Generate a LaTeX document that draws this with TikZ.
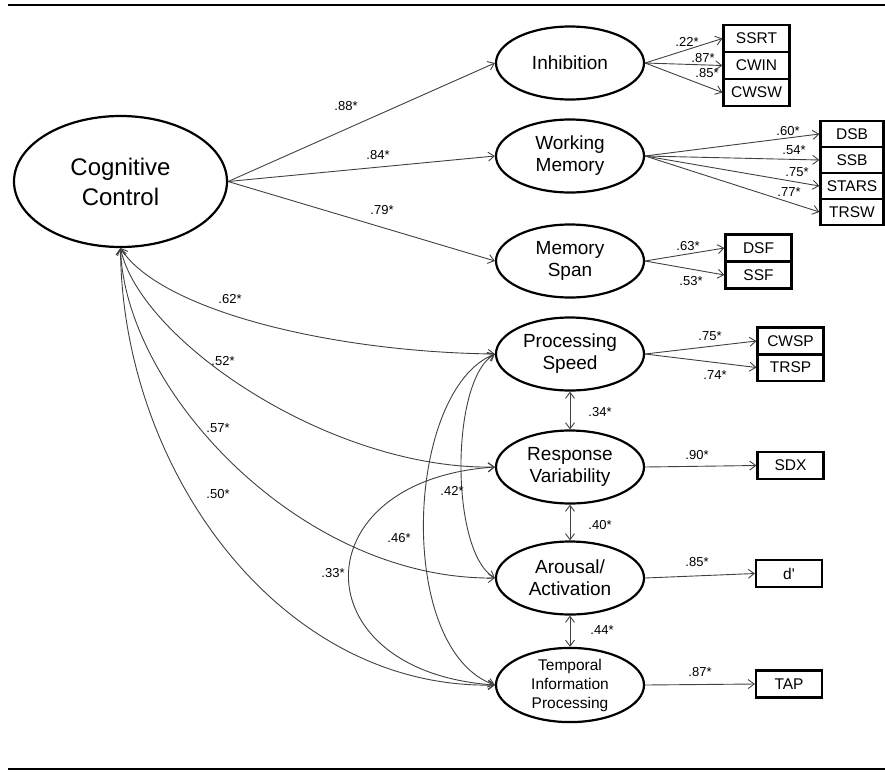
\documentclass[tikz,border=0pt]{standalone}
\usepackage{fontspec}
\setmainfont{Liberation Sans}
\usetikzlibrary{arrows.meta,positioning,shapes.geometric}

\begin{document}
\begin{tikzpicture}[
        x=1pt,
        y=1pt,
        latent/.style={ellipse, draw, line width=2.2pt, inner sep=0pt, minimum width=148pt, minimum height=73pt, align=center, font=\fontsize{19}{22}\selectfont},
        indic/.style={rectangle, draw, line width=2.2pt, inner sep=0pt, minimum width=66pt, minimum height=27pt, font=\fontsize{15.5}{18}\selectfont},
        load/.style={-{Straight Barb[length=6pt,width=9pt]}, line width=0.9pt, black!75},
        cov/.style={{Straight Barb[length=6pt,width=9pt]}-{Straight Barb[length=6pt,width=9pt]}, line width=0.9pt, black!75},
        coef/.style={font=\fontsize{13}{15}\selectfont, inner sep=0pt},
        hrule/.style={line width=2pt}
    ]
        \useasboundingbox (0,0) rectangle (885,-771);
        \draw[hrule] (8,-5) -- (885,-5);
        \draw[hrule] (8,-769) -- (885,-769);

        \node[latent, minimum width=213pt, minimum height=131pt, font=\fontsize{24}{30}\selectfont] (cc) at (120.5,-181.5) {Cognitive\\Control};

        \node[latent] (inh) at (570,-63) {Inhibition};
        \node[latent] (wm) at (570,-156) {Working\\Memory};
        \node[latent] (ms) at (570,-261) {Memory\\Span};
        \node[latent] (ps) at (570,-354) {Processing\\Speed};
        \node[latent] (rv) at (570,-467) {Response\\Variability};
        \node[latent] (aa) at (570,-578) {Arousal/\\Activation};
        \node[latent, font=\fontsize{15.5}{19}\selectfont] (tip) at (570,-685) {Temporal\\Information\\Processing};

        \node[indic] (ssrt) at (756.5,-38.5) {SSRT};
        \node[indic] (cwin) at (756.5,-65.5) {CWIN};
        \node[indic] (cwsw) at (756.5,-92.5) {CWSW};
        \node[indic, minimum width=63pt, minimum height=26pt] (dsb) at (852,-134) {DSB};
        \node[indic, minimum width=63pt, minimum height=26pt] (ssb) at (852,-160) {SSB};
        \node[indic, minimum width=63pt, minimum height=26pt] (stars) at (852,-186) {STARS};
        \node[indic, minimum width=63pt, minimum height=26pt] (trsw) at (852,-212) {TRSW};
        \node[indic] (dsf) at (758.5,-248) {DSF};
        \node[indic] (ssf) at (758.5,-275) {SSF};
        \node[indic] (cwsp) at (790.5,-341) {CWSP};
        \node[indic] (trsp) at (790.5,-367.5) {TRSP};
        \node[indic] (sdx) at (790.5,-465.5) {SDX};
        \node[indic] (dpr) at (789,-573.5) {d\textquotesingle};
        \node[indic] (tap) at (789,-684) {TAP};

        \foreach \f in {inh,wm,ms} {
            \draw[load] (cc.east) -- (\f.west);
        }
        \foreach \f/\v in {inh/ssrt,inh/cwin,inh/cwsw,wm/dsb,wm/ssb,wm/stars,wm/trsw,ms/dsf,ms/ssf,ps/cwsp,ps/trsp,rv/sdx,aa/dpr,tip/tap} {
            \draw[load] (\f.east) -- (\v.west);
        }

        \draw[cov] (cc.south) .. controls (160,-310) and (330,-352) .. (ps.west);
        \draw[cov] (cc.south) .. controls (140,-340) and (330,-470) .. (rv.west);
        \draw[cov] (cc.south) .. controls (125,-390) and (300,-580) .. (aa.west);
        \draw[cov] (cc.south) .. controls (122,-470) and (280,-690) .. (tip.west);

        \draw[cov] (ps) -- (rv);
        \draw[cov] (rv) -- (aa);
        \draw[cov] (aa) -- (tip);

        \draw[cov] (ps.west) .. controls (450,-380) and (450,-552) .. (aa.west);
        \draw[cov] (ps.west) .. controls (405,-390) and (395,-650) .. (tip.west);
        \draw[cov] (rv.west) .. controls (300,-480) and (300,-672) .. (tip.west);

        \foreach \nm/\x/\y/\t in {c88/346/106/.88*, c84/378/155/.84*, c79/382/210/.79*,
                c22/687/42/.22*, c87a/703/58/.87*, c85a/707/73/.85*,
                c60/788/131/.60*, c54/794/150/.54*, c75a/797/172/.75*, c77/789/192/.77*,
                c63/688/246/.63*, c53/691/281/.53*, c75b/710/336/.75*, c74/715/375/.74*,
                c90/697/455/.90*, c85b/697/562/.85*, c87b/700/672/.87*,
                c62/230/299/.62*, c52/223/361/.52*, c57/218/428/.57*, c50/218/494/.50*,
                c34/600/412/.34*, c40/600/525/.40*, c44/602/630/.44*,
                c42/452/491/.42*, c46/399/538/.46*, c33/333/573/.33*} {
            \node[coef] (\nm) at (\x,-\y) {\t};
        }
    \end{tikzpicture}
\end{document}
